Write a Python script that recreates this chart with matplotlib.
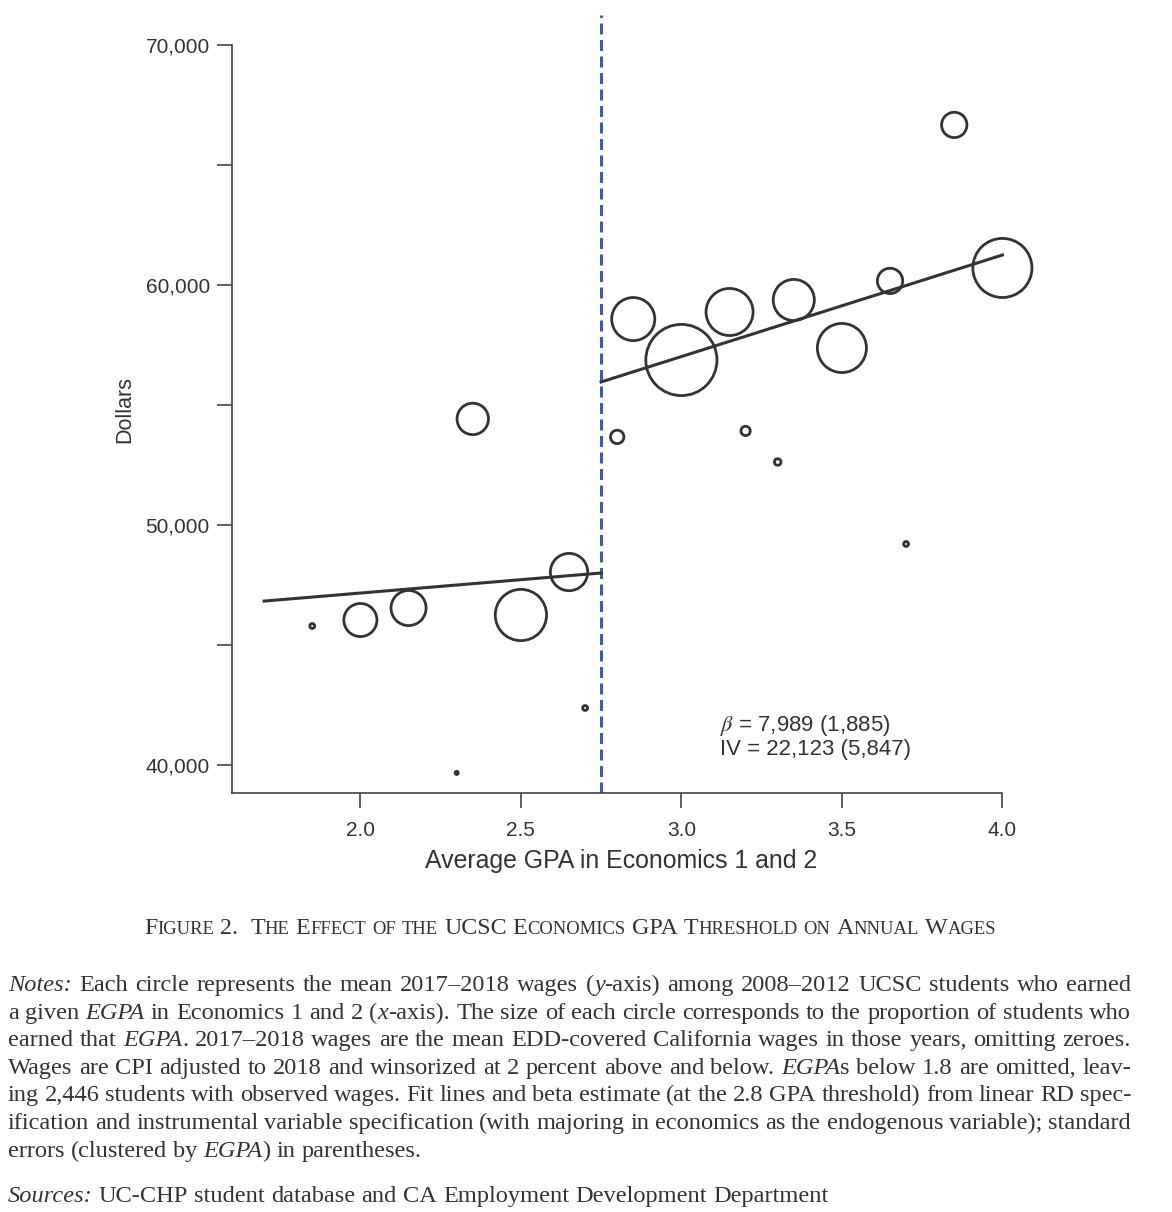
import matplotlib
matplotlib.use("Agg")
import matplotlib.pyplot as plt
from matplotlib.ticker import FuncFormatter, FormatStrFormatter

plt.rcParams["font.family"] = "Liberation Sans"
plt.rcParams["mathtext.fontset"] = "stix"

# data
gpa = [1.85, 2.0, 2.15, 2.3, 2.35, 2.5, 2.65, 2.7, 2.8, 2.85,
       3.0, 3.15, 3.2, 3.3, 3.35, 3.5, 3.65, 3.7, 3.85, 4.0]
wages = [45790, 46040, 46540, 39670, 54420, 46250, 48040, 42375, 53670, 58580,
         56875, 58875, 53920, 52625, 59375, 57375, 60170, 49210, 66670, 60710]
# share of students (percent) -> circle area
share = [0.2, 4.4, 4.9, 0.12, 4.0, 10.0, 5.5, 0.2, 0.9, 7.2,
         18.7, 8.5, 0.5, 0.3, 6.6, 9.2, 2.7, 0.2, 2.7, 13.1]

threshold = 2.75
fit_left_x = [1.70, 2.75]
fit_left_y = [46830, 48000]
fit_right_x = [2.75, 4.0]
fit_right_y = [55960, 61250]

x_ticks = [2.0, 2.5, 3.0, 3.5, 4.0]
y_ticks = [40000, 50000, 60000, 70000]
y_minor = [45000, 55000, 65000]

beta_text = r"$\beta$ = 7,989 (1,885)"
iv_text = "IV = 22,123 (5,847)"
caption = "Figure 2.  The Effect of the UCSC Economics GPA Threshold on Annual Wages"
notes = [
    "*Notes:* Each circle represents the mean 2017–2018 wages (*y*-axis) among 2008–2012 UCSC students who earned",
    "a given *EGPA* in Economics 1 and 2 (*x*-axis). The size of each circle corresponds to the proportion of students who",
    "earned that *EGPA*. 2017–2018 wages are the mean EDD-covered California wages in those years, omitting zeroes.",
    "Wages are CPI adjusted to 2018 and winsorized at 2 percent above and below. *EGPA*s below 1.8 are omitted, leav-",
    "ing 2,446 students with observed wages. Fit lines and beta estimate (at the 2.8 GPA threshold) from linear RD spec-",
    "ification and instrumental variable specification (with majoring in economics as the endogenous variable); standard",
    "errors (clustered by *EGPA*) in parentheses.",
]
sources = "*Sources:* UC-CHP student database and CA Employment Development Department"

W, H = 1172, 1212
DPI = 100
INK = "#333333"
AXC = "#444444"

fig = plt.figure(figsize=(W / DPI, H / DPI), dpi=DPI)
ax = fig.add_axes([232 / W, 1 - 793 / H, 802.5 / W, 778 / H])
ax.set_xlim(1.6, 4.1)
ax.set_ylim(38833, 71250)

# circle sizes: outer radius in px from share, minus half the stroke
lw_pt = 2.0
lw_px = lw_pt * DPI / 72
sizes = []
for s in share:
    r_px = (s * 73.1) ** 0.5
    d_pt = max(2 * r_px - lw_px, 1.0) * 72 / DPI
    sizes.append(d_pt ** 2)

ax.scatter(gpa, wages, s=sizes, facecolors="none", edgecolors=INK,
           linewidths=lw_pt, zorder=3, clip_on=False)
ax.plot(fit_left_x, fit_left_y, color=INK, lw=2.2, zorder=2)
ax.plot(fit_right_x, fit_right_y, color=INK, lw=2.2, zorder=2)
ax.axvline(threshold, color="#3f5ba9", lw=2.2, dashes=(3.6, 1.8), zorder=1)

for side in ["top", "right"]:
    ax.spines[side].set_visible(False)
ax.spines["left"].set_bounds(38833, 70000)
ax.spines["bottom"].set_bounds(1.6, 4.0)
for side in ["left", "bottom"]:
    ax.spines[side].set_color(AXC)
    ax.spines[side].set_linewidth(1.2)

ax.set_xticks(x_ticks)
ax.xaxis.set_major_formatter(FormatStrFormatter("%.1f"))
ax.set_yticks(y_ticks)
ax.set_yticks(y_minor, minor=True)
ax.yaxis.set_major_formatter(FuncFormatter(lambda v, p: f"{v:,.0f}"))
ax.tick_params(which="both", length=11, width=1.2, color=AXC,
               labelcolor=INK, labelsize=15)
ax.tick_params(axis="x", pad=9)
ax.tick_params(axis="y", pad=5)

fig.text(125 / W, 1 - 410 / H, "Dollars", rotation=90, ha="center",
         va="center", fontsize=15.5, color=INK)
fig.text(621 / W, 1 - 861 / H, "Average GPA in Economics 1 and 2",
         ha="center", va="center", fontsize=17.9, color=INK)
fig.text(720 / W, 1 - 726 / H, beta_text, ha="left", va="center",
         fontsize=16, color=INK)
fig.text(720 / W, 1 - 749 / H, iv_text, ha="left", va="center",
         fontsize=16, color=INK)

# ---- caption and notes, drawn piece by piece ----
fig.canvas.draw()
renderer = fig.canvas.get_renderer()
SERIF = "Liberation Serif"


def width(s, **kw):
    t = fig.text(0, 0, s, **kw)
    w = t.get_window_extent(renderer).width
    t.remove()
    return w


def put(x, y, s, **kw):
    fig.text(x / W, 1 - y / H, s, ha="left", va="baseline", **kw)


# small caps caption
big, small = 17.3, 13.4
cap_words = []
for word in caption.split(" "):
    runs = []
    for ch in word:
        is_big = not ch.islower()
        if runs and runs[-1][1] == is_big:
            runs[-1][0] += ch
        else:
            runs.append([ch, is_big])
    cap_words.append([(r.upper(), big if b else small) for r, b in runs])

sp_cap = width("a a", family=SERIF, size=big) - width("aa", family=SERIF, size=big)
word_w = []
for runs in cap_words:
    word_w.append([width(r, family=SERIF, size=sz) for r, sz in runs])
total = sum(sum(ws) for ws in word_w) + sp_cap * (len(cap_words) - 1)
x = 570 - total / 2
for runs, ws in zip(cap_words, word_w):
    if not runs:
        x += sp_cap
        continue
    for (r, sz), w in zip(runs, ws):
        put(x, 934, r, family=SERIF, size=sz, color=INK)
        x += w
    x += sp_cap

# justified notes
NSIZE = 17.6
LEFT, RIGHT = 8, 1131


def parse(line):
    italic = False
    words = []
    for word in line.split(" "):
        segs = []
        for i, part in enumerate(word.split("*")):
            if i > 0:
                italic = not italic
            if part:
                segs.append((part, italic))
        words.append(segs)
    return words


def seg_width(seg):
    txt, it = seg
    return width(txt, family=SERIF, size=NSIZE,
                 style="italic" if it else "normal")


sp_note = width("a a", family=SERIF, size=NSIZE) - width("aa", family=SERIF, size=NSIZE)


def draw_line(line, y, justify):
    words = parse(line)
    ws = [[seg_width(s) for s in w] for w in words]
    total = sum(sum(w) for w in ws)
    gap = sp_note
    if justify and len(words) > 1:
        gap = (RIGHT - LEFT - total) / (len(words) - 1)
    x = LEFT
    for segs, wl in zip(words, ws):
        for (txt, it), w in zip(segs, wl):
            put(x, y, txt, family=SERIF, size=NSIZE, color=INK,
                style="italic" if it else "normal")
            x += w
        x += gap


base = 991
step = 27.6
for i, line in enumerate(notes):
    draw_line(line, base + i * step, justify=(i < len(notes) - 1))
draw_line(sources, base + 6 * step + 45, justify=False)

fig.savefig("out.png", dpi=DPI)
